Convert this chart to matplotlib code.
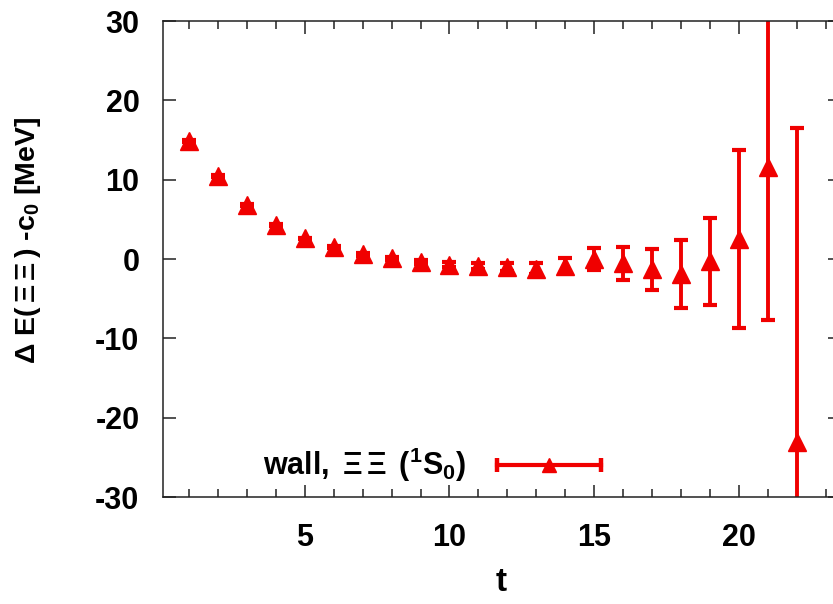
import matplotlib
matplotlib.use("Agg")
import matplotlib.pyplot as plt
from matplotlib.legend_handler import HandlerBase
from matplotlib.lines import Line2D
from matplotlib.ticker import MultipleLocator

# ---- data ----
t = list(range(1, 23))
dE = [14.9, 10.5, 6.8, 4.3, 2.6, 1.5, 0.6, 0.1, -0.4, -0.7, -0.9, -1.0,
      -1.2, -0.85, 0.0, -0.55, -1.3, -1.9, -0.3, 2.5, 11.6, -23.0]
err = [0.1, 0.1, 0.1, 0.1, 0.1, 0.15, 0.2, 0.2, 0.25, 0.3, 0.35, 0.45,
       0.7, 0.95, 1.4, 2.05, 2.6, 4.3, 5.5, 11.2, 19.3, 39.5]
label = r'wall, $\,\Xi\,\Xi\,$ ($^{\mathbf{1}}$S$_{\mathbf{0}}$)'
xticks = [5, 10, 15, 20]
yticks = [-30, -20, -10, 0, 10, 20, 30]

RED = '#f00000'

plt.rcParams['font.family'] = ['Liberation Sans', 'DejaVu Sans']
plt.rcParams['font.weight'] = 'bold'
plt.rcParams['axes.unicode_minus'] = False
plt.rcParams['mathtext.fontset'] = 'custom'
plt.rcParams['mathtext.rm'] = 'Liberation Sans'
plt.rcParams['mathtext.bf'] = 'Liberation Sans:bold'
plt.rcParams['mathtext.it'] = 'Liberation Sans:italic'
plt.rcParams['mathtext.sf'] = 'Liberation Sans'

fig = plt.figure(figsize=(8.33, 6.04), dpi=100)
ax = fig.add_axes([0.1957, 0.177, 0.8127, 0.788])

ax.errorbar(t, dE, yerr=err, fmt='^', color=RED, ms=12.5, elinewidth=2.8,
            capsize=4.8, capthick=3, label=label)

ax.set_xlim(0.1, 23.5)
ax.set_ylim(-30, 30)
ax.set_xticks(xticks)
ax.xaxis.set_minor_locator(MultipleLocator(1))
ax.set_yticks(yticks)

for s in ax.spines.values():
    s.set_linewidth(1.1)
    s.set_color('#222222')

ax.tick_params(which='both', direction='in', top=True, right=True,
               width=1.1, color='#222222')
ax.tick_params(which='major', length=9)
ax.tick_params(which='minor', length=5.5)
ax.tick_params(axis='y', which='major', pad=17, labelsize=22)
ax.tick_params(axis='x', which='major', pad=19, labelsize=22)
for lab in ax.get_xticklabels() + ax.get_yticklabels():
    lab.set_fontweight('bold')

ax.set_xlabel('t', fontsize=24, fontweight='bold', labelpad=10)
ax.set_ylabel(r'$\Delta$ E($\,\Xi\,\Xi\,$) -c$_{\mathbf{0}}$ [MeV]',
              fontsize=20.5, fontweight='bold')
ax.yaxis.set_label_coords(-0.177, 0.54)


class HandlerHErr(HandlerBase):
    def create_artists(self, legend, orig_handle, xdescent, ydescent,
                       width, height, fontsize, trans):
        y = height / 2 - ydescent
        x0, x1 = -xdescent, width - xdescent
        line = Line2D([x0, x1], [y, y], color=RED, lw=3)
        caps = Line2D([x0, x1], [y, y], ls='none', marker='|', ms=10,
                      mew=3.2, color=RED)
        tri = Line2D([(x0 + x1) / 2], [y], ls='none', marker='^', ms=10,
                     color=RED)
        for a in (line, caps, tri):
            a.set_transform(trans)
        return [line, caps, tri]


proxy = Line2D([], [], color=RED)
ax.legend([proxy], [label], handler_map={Line2D: HandlerHErr()},
          loc='center', bbox_to_anchor=(0.397, 0.067), frameon=False,
          markerfirst=False, handlelength=3.4, handletextpad=1.0,
          prop={'size': 22, 'weight': 'bold'})

fig.savefig('out.png', dpi=100)
